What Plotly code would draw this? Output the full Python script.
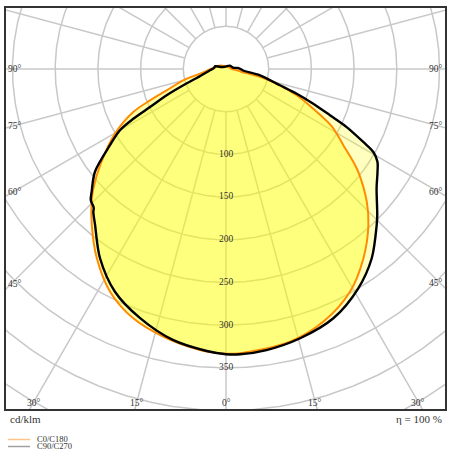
import numpy as np
import plotly.graph_objects as go

# ---------------- data ----------------
# luminous intensity in cd/klm versus gamma angle (deg, 0 = straight down)
c180_gamma = [0, 1.4, 5.3, 12.4, 20.4, 27.5, 34.3, 40.7, 45.7, 48.0, 52.7, 59.8,
              65.1, 67.6, 70.2, 75.2, 79.8, 94.5, 120, 150, 180]
c180_int = [333.5, 333, 330.4, 323, 311.5, 294, 268.4, 241, 219.7, 209, 185, 150.4,
            119.7, 96.2, 73.8, 51.7, 30.9, 14.9, 8, 4, 3]

c0_gamma = [0, 2.8, 13.2, 21.1, 29.1, 36.0, 42.4, 46.7, 52.1, 53.9, 57.0, 61.5,
            65.5, 69.6, 73.2, 76.5, 80, 85, 90, 120, 150, 180]
c0_int = [333.5, 333.3, 328, 317, 298.5, 273.8, 247.3, 226.5, 196.3, 184.5, 163.8, 141,
          112.3, 88.3, 66, 45, 18, 10.5, 7, 4, 3, 3]

c270_gamma = [0, 3.9, 11.1, 19.1, 26.5, 33.7, 40.0, 42.9, 43.6, 45.9, 47.6, 51.9,
              56.7, 60.0, 61.8, 63.4, 66.1, 69.1, 72.9, 85.4, 95, 105, 110, 150, 180]
c270_int = [334, 331, 323.3, 308.4, 291.4, 266, 238.5, 228.2, 224.5, 220.5, 213, 195,
            162.6, 143.4, 123.2, 99.5, 76, 53.5, 35.9, 18.8, 14, 13, 7, 3, 3]

c90_gamma = [0, 2.8, 8.2, 15.4, 23.3, 31.1, 37.6, 44.0, 46.0, 51.6, 55.8, 58.5,
             60.6, 62.0, 64.3, 66.0, 68.3, 70.7, 73.2, 79.5, 85, 90, 95, 100.5, 129.5, 180]
c90_int = [334, 334.5, 332.5, 327, 317.8, 299.9, 279.7, 254, 246.2, 225, 214.5, 208,
           198, 182, 156.8, 133.3, 110, 87.7, 66, 40.5, 20, 17, 14, 8.3, 6.1, 3]

ring_values = [50, 100, 150, 200, 250, 300, 350, 400, 450]
ring_label_values = [100, 150, 200, 250, 300, 350]
spoke_step = 15
bottom_angles = [-30, -15, 0, 15, 30]
side_angles = [45, 60, 75, 90]

series_names = ["C0/C180", "C90/C270"]
unit_label = "cd/klm"
eta_label = "η = 100 %"

# ---------------- layout geometry ----------------
W, H = 450, 450
PL, PR, PT, PB = 5, 446, 7, 410      # plot area in pixels
CX, CY = 226, 69                      # pole in pixels
S = 0.854                             # pixels per cd/klm

x_range = [(PL - CX) / S, (PR - CX) / S]
y_range = [-(PB - CY) / S, (CY - PT) / S]

FONT = "Liberation Serif"
ORANGE = "#ff8c00"


def px2paper(px, py):
    return (px - PL) / (PR - PL), (PB - py) / (PB - PT)


def half(gamma, inten, side):
    g = np.radians(np.asarray(gamma, float))
    r = np.asarray(inten, float)
    return side * r * np.sin(g), -r * np.cos(g)


def loop(gl, il, gr, ir):
    xl, yl = half(gl, il, -1)
    xr, yr = half(gr, ir, 1)
    x = np.concatenate([xl[::-1], xr[1:]])
    y = np.concatenate([yl[::-1], yr[1:]])
    return x, y


fig = go.Figure()

# grid: rings and spokes
theta = np.linspace(0, 2 * np.pi, 721)
gx, gy = [], []
for r in ring_values:
    gx += list(r * np.cos(theta)) + [None]
    gy += list(r * np.sin(theta)) + [None]
r_in, r_out = ring_values[0], 800
for a in range(0, 360, spoke_step):
    ar = np.radians(a)
    gx += [r_in * np.sin(ar), r_out * np.sin(ar), None]
    gy += [r_in * np.cos(ar), r_out * np.cos(ar), None]
fig.add_trace(go.Scatter(x=gx, y=gy, mode="lines",
                         line=dict(color="#c8c8c8", width=1.5),
                         hoverinfo="skip", showlegend=False))

# curves
bx, by = loop(c270_gamma, c270_int, c90_gamma, c90_int)
ox, oy = loop(c180_gamma, c180_int, c0_gamma, c0_int)
SM = 0.9
fig.add_trace(go.Scatter(x=bx, y=by, mode="lines", fill="toself",
                         fillcolor="rgba(255,255,0,0.25)",
                         line=dict(width=0, shape="spline", smoothing=SM),
                         hoverinfo="skip", showlegend=False))
fig.add_trace(go.Scatter(x=ox, y=oy, mode="lines", fill="toself",
                         fillcolor="rgba(255,255,0,0.34)",
                         line=dict(color=ORANGE, width=2, shape="spline", smoothing=SM),
                         hoverinfo="skip", showlegend=False))
fig.add_trace(go.Scatter(x=bx, y=by, mode="lines",
                         line=dict(color="black", width=2.4, shape="spline", smoothing=SM),
                         hoverinfo="skip", showlegend=False))

# ring labels
fig.add_trace(go.Scatter(x=[0] * len(ring_label_values),
                         y=[-v for v in ring_label_values],
                         text=[str(v) for v in ring_label_values],
                         mode="text",
                         textfont=dict(family=FONT, size=9.5, color="#333"),
                         hoverinfo="skip", showlegend=False))

annotations = []
# bottom angle labels
yb = y_range[0]
for a in bottom_angles:
    ar = np.radians(abs(a))
    xi = np.sign(a) * (-yb) * np.tan(ar)
    xl = xi - np.sign(a) * 9 * np.sin(ar) / S
    annotations.append(dict(x=xl, y=yb + 7 / S, xref="x", yref="y",
                            text=f"{abs(a)}°", showarrow=False,
                            xanchor="center", yanchor="middle",
                            font=dict(family=FONT, size=9.5, color="#333")))
# side angle labels
for a in side_angles:
    ar = np.radians(a)
    for side in (-1, 1):
        xe = x_range[0] if side < 0 else x_range[1]
        yi = -abs(xe) / np.tan(ar) if a != 90 else 0.0
        yl = yi + 9 * np.cos(ar) / S
        annotations.append(dict(x=xe + (-side) * 1 / S, y=yl, xref="x", yref="y",
                                text=f"{a}°", showarrow=False,
                                xanchor="left" if side < 0 else "right",
                                yanchor="middle",
                                font=dict(family=FONT, size=9.5, color="#333")))

# texts below the frame
px_, py_ = px2paper(8, 419)
annotations.append(dict(x=px_, y=py_, xref="paper", yref="paper", text=unit_label,
                        showarrow=False, xanchor="left", yanchor="middle",
                        font=dict(family=FONT, size=11, color="#333")))
px_, py_ = px2paper(444, 419)
annotations.append(dict(x=px_, y=py_, xref="paper", yref="paper", text=eta_label,
                        showarrow=False, xanchor="right", yanchor="middle",
                        font=dict(family=FONT, size=11, color="#333")))

shapes = [dict(type="rect", xref="paper", yref="paper", x0=0, y0=0, x1=1, y1=1,
               line=dict(color="#333", width=2), layer="above")]

legend_colors = ["#ffc488", "#a0a0a0"]
legend_y = [439.5, 446.5]
for name, col, ly in zip(series_names, legend_colors, legend_y):
    x0, y0 = px2paper(8, ly)
    x1, _ = px2paper(30, ly)
    shapes.append(dict(type="line", xref="paper", yref="paper", x0=x0, x1=x1,
                       y0=y0, y1=y0, line=dict(color=col, width=1.5)))
    tx, ty = px2paper(35, ly - 0.5)
    annotations.append(dict(x=tx, y=ty, xref="paper", yref="paper", text=name,
                            showarrow=False, xanchor="left", yanchor="middle",
                            font=dict(family=FONT, size=8.5, color="#333")))

fig.update_layout(
    width=W, height=H, autosize=False,
    margin=dict(l=PL, r=W - PR, t=PT, b=H - PB, pad=0),
    paper_bgcolor="white", plot_bgcolor="white",
    xaxis=dict(range=x_range, visible=False, showgrid=False, zeroline=False,
               fixedrange=True),
    yaxis=dict(range=y_range, visible=False, showgrid=False, zeroline=False,
               fixedrange=True),
    annotations=annotations, shapes=shapes,
    showlegend=False,
)

fig.write_html("out.html", config={"displayModeBar": False},
               post_script="document.body.style.margin='0px';"
                           "document.body.style.padding='0px';")
